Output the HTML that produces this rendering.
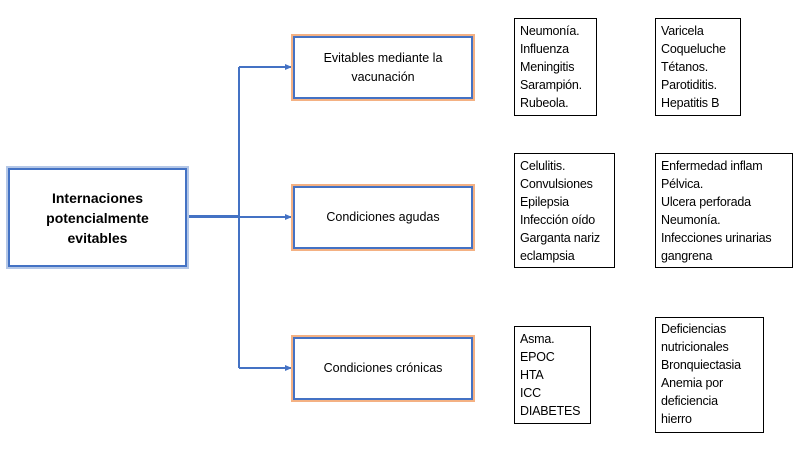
<!DOCTYPE html>
<html><head><meta charset="utf-8"><style>
body{margin:0;width:800px;height:450px;background:#fff;position:relative;overflow:hidden;font-family:"Liberation Sans",sans-serif;color:#000}
.b{position:absolute;box-sizing:border-box;border:1px solid #000;font-size:12.5px;line-height:18px;padding:3px 0 0 5px;white-space:nowrap;letter-spacing:-0.2px}
.o{position:absolute;box-sizing:border-box;border:2px solid #4472c4;box-shadow:0 0 0 2px #f4b183;display:flex;align-items:center;justify-content:center;text-align:center;font-size:12.5px;line-height:19px}
.m{position:absolute;left:8px;top:168px;width:179px;height:99px;box-sizing:border-box;border:2px solid #4472c4;box-shadow:0 0 0 2px #b4c7e7;display:flex;align-items:center;justify-content:center;text-align:center;font-weight:bold;font-size:14px;line-height:20px}
</style></head><body>
<svg width="800" height="450" style="position:absolute;left:0;top:0">
<defs><marker id="a" markerWidth="8" markerHeight="8" refX="7" refY="4" orient="auto" markerUnits="userSpaceOnUse"><path d="M0,1 L7,4 L0,7z" fill="#4472c4"/></marker></defs>
<line x1="187" y1="216.5" x2="239" y2="216.5" stroke="#4472c4" stroke-width="3"/>
<line x1="239" y1="67" x2="239" y2="368" stroke="#4472c4" stroke-width="2"/>
<line x1="239" y1="67" x2="292" y2="67" stroke="#4472c4" stroke-width="2" marker-end="url(#a)"/>
<line x1="239" y1="217" x2="292" y2="217" stroke="#4472c4" stroke-width="2" marker-end="url(#a)"/>
<line x1="239" y1="368" x2="292" y2="368" stroke="#4472c4" stroke-width="2" marker-end="url(#a)"/>
</svg>
<div class="m">Internaciones<br>potencialmente<br>evitables</div>
<div class="o" style="left:293px;top:36px;width:180px;height:63px">Evitables mediante la<br>vacunación</div>
<div class="o" style="left:293px;top:186px;width:180px;height:63px">Condiciones agudas</div>
<div class="o" style="left:293px;top:337px;width:180px;height:63px">Condiciones crónicas</div>
<div class="b" style="left:514px;top:18px;width:83px;height:98px">Neumonía.<br>Influenza<br>Meningitis<br>Sarampión.<br>Rubeola.</div>
<div class="b" style="left:655px;top:18px;width:86px;height:98px">Varicela<br>Coqueluche<br>Tétanos.<br>Parotiditis.<br>Hepatitis B</div>
<div class="b" style="left:514px;top:153px;width:101px;height:115px">Celulitis.<br>Convulsiones<br>Epilepsia<br>Infección oído<br>Garganta nariz<br>eclampsia</div>
<div class="b" style="left:655px;top:153px;width:138px;height:115px">Enfermedad inflam<br>Pélvica.<br>Ulcera perforada<br>Neumonía.<br>Infecciones urinarias<br>gangrena</div>
<div class="b" style="left:514px;top:326px;width:77px;height:98px">Asma.<br>EPOC<br>HTA<br>ICC<br>DIABETES</div>
<div class="b" style="left:655px;top:317px;width:109px;height:116px;padding-top:2px">Deficiencias<br>nutricionales<br>Bronquiectasia<br>Anemia por<br>deficiencia<br>hierro</div>
</body></html>
